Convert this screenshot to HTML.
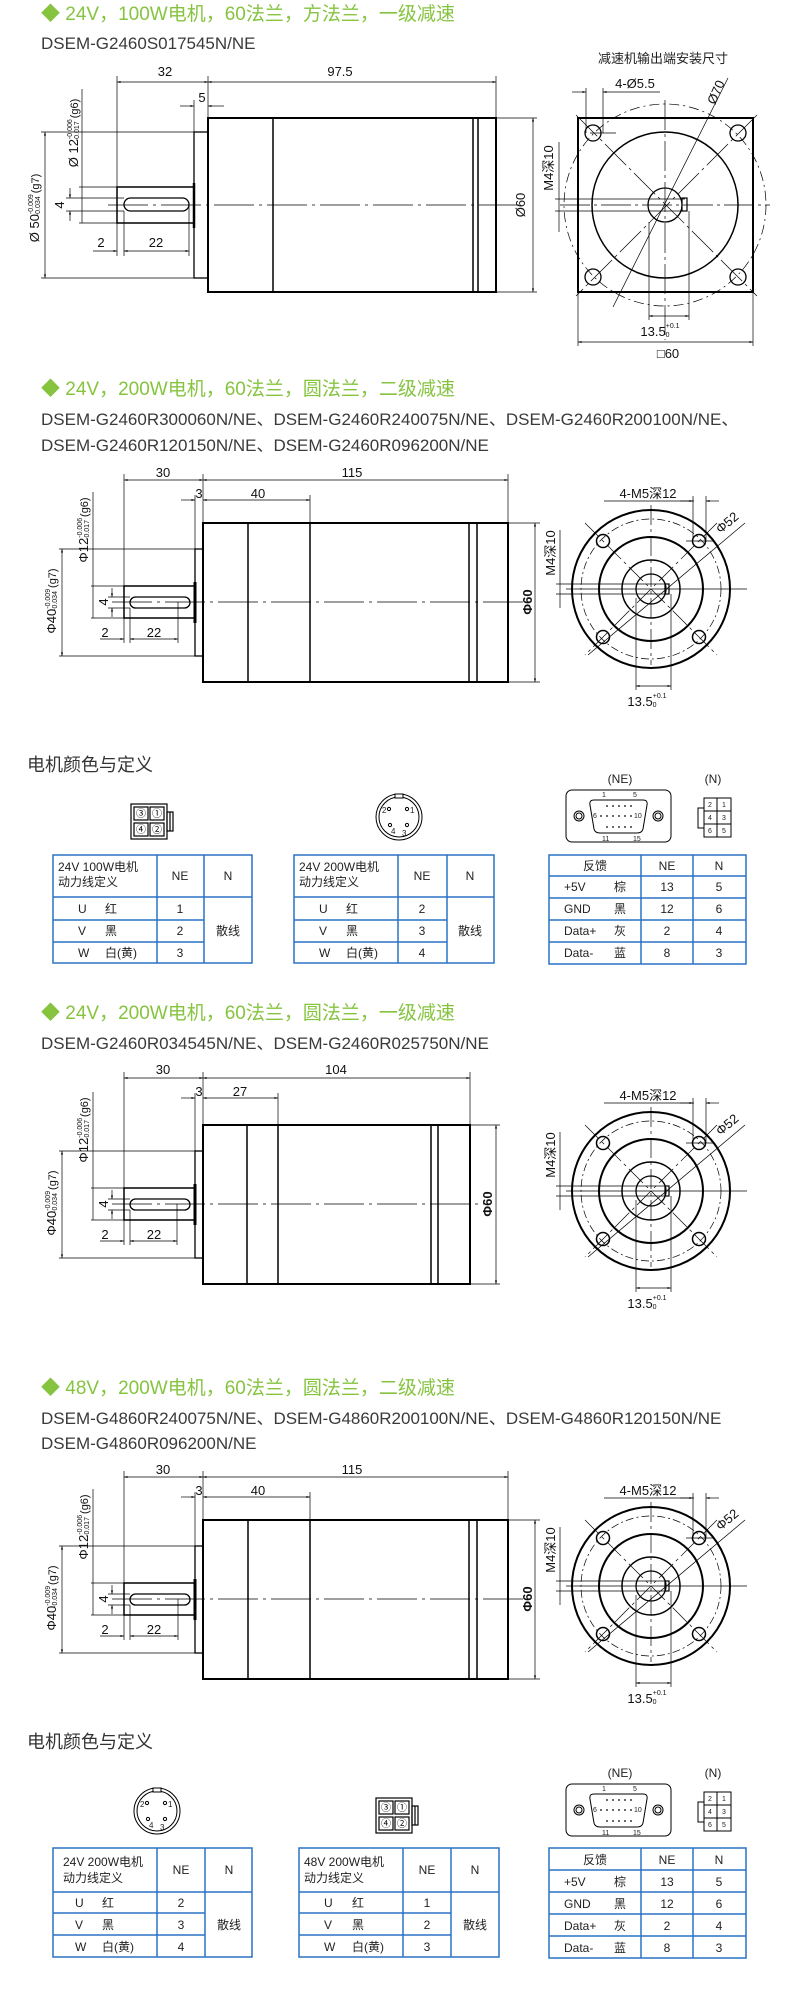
<!DOCTYPE html>
<html><head><meta charset="utf-8"><style>
html,body{margin:0;padding:0;background:#fff;}
svg{display:block;}
.t{font-family:"Liberation Sans","Noto Sans CJK SC",sans-serif;}
.ttl{font-family:"Liberation Sans","Noto Sans CJK SC",sans-serif;font-size:19px;fill:#86c440;}
.dsem{font-family:"Liberation Sans","Noto Sans CJK SC",sans-serif;font-size:17px;fill:#3a3a3a;}
.d{font-family:"Liberation Sans","Noto Sans CJK SC",sans-serif;font-size:13px;fill:#111;}
.s{font-family:"Liberation Sans",sans-serif;font-size:7px;fill:#111;}
.tb{font-family:"Liberation Sans","Noto Sans CJK SC",sans-serif;font-size:12px;fill:#222;}
.hd{font-family:"Liberation Sans","Noto Sans CJK SC",sans-serif;font-size:18px;fill:#333;}
</style></head><body>
<svg width="790" height="1995" viewBox="0 0 790 1995" xmlns="http://www.w3.org/2000/svg">
<defs>
<marker id="a" viewBox="0 0 10 10" refX="10" refY="5" markerWidth="7" markerHeight="5" orient="auto-start-reverse"><path d="M0,2 L10,5 L0,8 z" fill="#000"/></marker>
</defs>

<!-- ================= SECTION 1 ================= -->
<text class="ttl" x="41" y="20">◆ 24V，100W电机，60法兰，方法兰，一级减速</text>
<text class="dsem" x="41" y="49">DSEM-G2460S017545N/NE</text>
<g stroke="#000" fill="none">
<rect x="208" y="118" width="288" height="174" stroke-width="2"/>
<line x1="273" y1="118" x2="273" y2="292" stroke-width="1.5"/>
<line x1="473" y1="118" x2="473" y2="292" stroke-width="1.5"/>
<line x1="478" y1="118" x2="478" y2="292" stroke-width="1.5"/>
<rect x="194" y="132" width="14" height="146" stroke-width="1.3"/>
<line x1="194" y1="183" x2="194" y2="228" stroke-width="2.5"/>
<rect x="117" y="187" width="77" height="36" stroke-width="1.5"/>
<rect x="124" y="198" width="65" height="13" rx="6.5" stroke-width="1.3"/>
<line x1="108" y1="205" x2="520" y2="205" stroke-width="0.7" stroke-dasharray="40 5 3 5"/>
<g stroke-width="0.7">
<line x1="117" y1="187" x2="117" y2="76"/><line x1="208" y1="118" x2="208" y2="76"/><line x1="496" y1="118" x2="496" y2="76"/>
<line x1="117" y1="82" x2="208" y2="82" marker-start="url(#a)" marker-end="url(#a)"/>
<line x1="208" y1="82" x2="496" y2="82" marker-start="url(#a)" marker-end="url(#a)"/>
<line x1="194" y1="132" x2="194" y2="100"/>
<line x1="180" y1="106" x2="194" y2="106" marker-end="url(#a)"/>
<line x1="224" y1="106" x2="208" y2="106" marker-end="url(#a)"/>
<line x1="496" y1="118" x2="537" y2="118"/><line x1="496" y1="292" x2="537" y2="292"/>
<line x1="533" y1="118" x2="533" y2="292" marker-start="url(#a)" marker-end="url(#a)"/>
<line x1="41" y1="132" x2="194" y2="132"/><line x1="41" y1="278" x2="194" y2="278"/>
<line x1="45" y1="132" x2="45" y2="278" marker-start="url(#a)" marker-end="url(#a)"/>
<line x1="82" y1="89" x2="82" y2="223"/>
<line x1="79" y1="187" x2="117" y2="187"/><line x1="79" y1="223" x2="117" y2="223"/>
<line x1="66" y1="198" x2="124" y2="198"/><line x1="66" y1="211" x2="124" y2="211"/>
<line x1="70" y1="188" x2="70" y2="198" marker-end="url(#a)"/><line x1="70" y1="221" x2="70" y2="211" marker-end="url(#a)"/>
<line x1="117" y1="223" x2="117" y2="256"/><line x1="124" y1="211" x2="124" y2="256"/><line x1="189" y1="205" x2="189" y2="256"/>
<line x1="93" y1="251" x2="117" y2="251" marker-end="url(#a)"/>
<line x1="124" y1="251" x2="189" y2="251" marker-start="url(#a)" marker-end="url(#a)"/>
</g>
</g>
<text class="d" x="165" y="76" text-anchor="middle">32</text>
<text class="d" x="340" y="76" text-anchor="middle">97.5</text>
<text class="d" x="202" y="102" text-anchor="middle">5</text>
<text class="d" x="101" y="247" text-anchor="middle">2</text>
<text class="d" x="156" y="247" text-anchor="middle">22</text>
<text class="d" transform="translate(525,205) rotate(-90)" text-anchor="middle">Ø60</text>
<text class="d" transform="translate(64,205) rotate(-90)" text-anchor="middle">4</text>
<text class="d" transform="translate(39,208) rotate(-90)" text-anchor="middle">Ø 50<tspan class="s" dy="-6">-0.009</tspan><tspan class="s" dx="-22" dy="7">-0.034</tspan><tspan dy="-1" font-size="11"> (g7)</tspan></text>
<text class="d" transform="translate(78,133) rotate(-90)" text-anchor="middle">Ø 12<tspan class="s" dy="-6">-0.006</tspan><tspan class="s" dx="-22" dy="7">-0.017</tspan><tspan dy="-1" font-size="11"> (g6)</tspan></text>

<!-- right view 1 -->
<text class="t" x="663" y="63" text-anchor="middle" font-size="13" fill="#222">减速机输出端安装尺寸</text>
<g stroke="#000" fill="none">
<rect x="578" y="118" width="175" height="174" stroke-width="2"/>
<circle cx="665" cy="205" r="73" stroke-width="1.5"/>
<circle cx="665" cy="205" r="101" stroke-width="0.7" stroke-dasharray="10 4 2 4"/>
<circle cx="665" cy="205" r="17" stroke-width="1.3"/>
<rect x="682" y="198" width="5" height="13" stroke-width="1.2"/>
<circle cx="593" cy="133" r="8" stroke-width="1.3"/><circle cx="738" cy="133" r="8" stroke-width="1.3"/>
<circle cx="593" cy="277" r="8" stroke-width="1.3"/><circle cx="738" cy="277" r="8" stroke-width="1.3"/>
<g stroke-width="0.7">
<line x1="576" y1="115" x2="757" y2="296" stroke-dasharray="30 4 3 4"/>
<line x1="757" y1="115" x2="576" y2="296" stroke-dasharray="30 4 3 4"/>
<line x1="665" y1="100" x2="665" y2="340" stroke-dasharray="30 4 3 4"/>
<line x1="560" y1="205" x2="770" y2="205" stroke-dasharray="30 4 3 4"/>
<line x1="613" y1="307" x2="728" y2="78"/>
<line x1="586" y1="88" x2="586" y2="133"/><line x1="603" y1="88" x2="603" y2="133"/>
<line x1="572" y1="92" x2="586" y2="92" marker-end="url(#a)"/>
<line x1="660" y1="92" x2="603" y2="92" marker-end="url(#a)"/>
<line x1="590" y1="133" x2="616" y2="133"/>
<line x1="559" y1="142" x2="559" y2="232"/>
<line x1="555" y1="199" x2="685" y2="199"/><line x1="555" y1="211" x2="685" y2="211"/>
<line x1="649" y1="222" x2="649" y2="320"/><line x1="689" y1="211" x2="689" y2="320"/>
<line x1="649" y1="316" x2="689" y2="316" marker-start="url(#a)" marker-end="url(#a)"/>
<line x1="578" y1="292" x2="578" y2="346"/><line x1="753" y1="292" x2="753" y2="346"/>
<line x1="578" y1="342" x2="753" y2="342" marker-start="url(#a)" marker-end="url(#a)"/>
</g>
</g>
<text class="d" x="635" y="88" text-anchor="middle">4-Ø5.5</text>
<text class="d" transform="translate(720,94) rotate(-66)" text-anchor="middle">Ø70</text>
<text class="d" transform="translate(553,168) rotate(-90)" text-anchor="middle">M4深10</text>
<text class="d" x="660" y="336" text-anchor="middle">13.5<tspan class="s" dy="-8">+0.1</tspan><tspan class="s" dx="-14" dy="9">0</tspan></text>
<text class="d" x="668" y="358" text-anchor="middle">□60</text>

<!-- ================= SECTION 2 (template) ================= -->
<g id="sec2">
<g stroke="#000" fill="none">
<rect x="203" y="523" width="305" height="159" stroke-width="2"/>
<line x1="248" y1="523" x2="248" y2="682" stroke-width="1.5"/>
<line x1="310" y1="523" x2="310" y2="682" stroke-width="1.5"/>
<line x1="469" y1="523" x2="469" y2="682" stroke-width="1.5"/>
<line x1="477" y1="523" x2="477" y2="682" stroke-width="1.5"/>
<rect x="195" y="549" width="8" height="107" stroke-width="1.3"/>
<line x1="195" y1="582" x2="195" y2="623" stroke-width="3"/>
<rect x="124" y="586" width="71" height="32" stroke-width="1.5"/>
<rect x="130" y="597" width="60" height="11" rx="5.5" stroke-width="1.3"/>
<line x1="112" y1="602" x2="525" y2="602" stroke-width="0.7" stroke-dasharray="40 5 3 5"/>
<g stroke-width="0.7">
<line x1="124" y1="586" x2="124" y2="474"/><line x1="203" y1="523" x2="203" y2="474"/><line x1="508" y1="523" x2="508" y2="474"/>
<line x1="124" y1="480" x2="203" y2="480" marker-start="url(#a)" marker-end="url(#a)"/>
<line x1="203" y1="480" x2="508" y2="480" marker-start="url(#a)" marker-end="url(#a)"/>
<line x1="195" y1="549" x2="195" y2="495"/><line x1="310" y1="523" x2="310" y2="495"/>
<line x1="181" y1="500" x2="195" y2="500" marker-end="url(#a)"/>
<line x1="203" y1="500" x2="310" y2="500" marker-start="url(#a)" marker-end="url(#a)"/>
<line x1="508" y1="523" x2="540" y2="523"/><line x1="508" y1="682" x2="540" y2="682"/>
<line x1="535" y1="523" x2="535" y2="682" marker-start="url(#a)" marker-end="url(#a)"/>
<line x1="59" y1="549" x2="195" y2="549"/><line x1="59" y1="656" x2="195" y2="656"/>
<line x1="62" y1="549" x2="62" y2="656" marker-start="url(#a)" marker-end="url(#a)"/>
<line x1="93" y1="492" x2="93" y2="618"/>
<line x1="91" y1="586" x2="124" y2="586"/><line x1="91" y1="618" x2="124" y2="618"/>
<line x1="108" y1="597" x2="130" y2="597"/><line x1="108" y1="608" x2="130" y2="608"/>
<line x1="112" y1="588" x2="112" y2="597" marker-end="url(#a)"/><line x1="112" y1="617" x2="112" y2="608" marker-end="url(#a)"/>
<line x1="124" y1="618" x2="124" y2="643"/><line x1="130" y1="608" x2="130" y2="643"/><line x1="178" y1="602" x2="178" y2="643"/>
<line x1="100" y1="639" x2="124" y2="639" marker-end="url(#a)"/>
<line x1="130" y1="639" x2="178" y2="639" marker-start="url(#a)" marker-end="url(#a)"/>
</g>
</g>
<text class="d" x="163" y="477" text-anchor="middle">30</text>
<text class="d" x="352" y="477" text-anchor="middle">115</text>
<text class="d" x="199" y="498" text-anchor="middle">3</text>
<text class="d" x="258" y="498" text-anchor="middle">40</text>
<text class="d" x="105" y="637" text-anchor="middle">2</text>
<text class="d" x="154" y="637" text-anchor="middle">22</text>
<text class="d" font-weight="bold" transform="translate(532,602) rotate(-90)" text-anchor="middle">Φ60</text>
<text class="d" transform="translate(108,602) rotate(-90)" text-anchor="middle">4</text>
<text class="d" transform="translate(56,601) rotate(-90)" text-anchor="middle">Φ40<tspan class="s" dy="-6">-0.009</tspan><tspan class="s" dx="-22" dy="7">-0.034</tspan><tspan dy="-1" font-size="11"> (g7)</tspan></text>
<text class="d" transform="translate(88,530) rotate(-90)" text-anchor="middle">Φ12<tspan class="s" dy="-6">-0.006</tspan><tspan class="s" dx="-22" dy="7">-0.017</tspan><tspan dy="-1" font-size="11"> (g6)</tspan></text>
</g>

<g id="rv2">
<g stroke="#000" fill="none">
<circle cx="651" cy="589" r="79" stroke-width="2"/>
<circle cx="651" cy="589" r="70" stroke-width="0.7" stroke-dasharray="8 3 2 3"/>
<circle cx="651" cy="589" r="52" stroke-width="2"/>
<circle cx="651" cy="589" r="29" stroke-width="1.5"/>
<circle cx="651" cy="589" r="15" stroke-width="1.3"/>
<rect x="665" y="584" width="4" height="10" stroke-width="1.2"/>
<circle cx="603" cy="541" r="6.5" stroke-width="1.5"/><circle cx="699" cy="541" r="6.5" stroke-width="1.5"/>
<circle cx="603" cy="637" r="6.5" stroke-width="1.5"/><circle cx="699" cy="637" r="6.5" stroke-width="1.5"/>
<g stroke-width="0.7">
<line x1="585" y1="523" x2="717" y2="655" stroke-dasharray="20 4 3 4"/>
<line x1="717" y1="523" x2="585" y2="655" stroke-dasharray="20 4 3 4"/>
<line x1="651" y1="505" x2="651" y2="665" stroke-dasharray="20 4 3 4"/>
<line x1="566" y1="589" x2="747" y2="589"/>
<line x1="588" y1="655" x2="745" y2="523"/>
<line x1="604" y1="501" x2="694" y2="501"/>
<line x1="693" y1="496" x2="693" y2="541"/><line x1="706" y1="496" x2="706" y2="541"/>
<line x1="680" y1="501" x2="693" y2="501" marker-end="url(#a)"/>
<line x1="719" y1="501" x2="706" y2="501" marker-end="url(#a)"/>
<line x1="686" y1="541" x2="713" y2="541"/>
<line x1="560" y1="530" x2="560" y2="608"/>
<line x1="556" y1="584" x2="665" y2="584"/><line x1="556" y1="594" x2="665" y2="594"/>
<line x1="636" y1="598" x2="636" y2="690"/><line x1="671" y1="594" x2="671" y2="690"/>
<line x1="636" y1="686" x2="671" y2="686" marker-start="url(#a)" marker-end="url(#a)"/>
</g>
</g>
<text class="d" x="648" y="498" text-anchor="middle">4-M5深12</text>
<text class="d" transform="translate(730,526) rotate(-40)" text-anchor="middle">Φ52</text>
<text class="d" transform="translate(555,553) rotate(-90)" text-anchor="middle">M4深10</text>
<text class="d" x="647" y="706" text-anchor="middle">13.5<tspan class="s" dy="-8">+0.1</tspan><tspan class="s" dx="-14" dy="9">0</tspan></text>
</g>

<text class="ttl" x="41" y="395">◆ 24V，200W电机，60法兰，圆法兰，二级减速</text>
<text class="dsem" x="41" y="425">DSEM-G2460R300060N/NE、DSEM-G2460R240075N/NE、DSEM-G2460R200100N/NE、</text>
<text class="dsem" x="41" y="451">DSEM-G2460R120150N/NE、DSEM-G2460R096200N/NE</text>

<!-- ================= TABLES A ================= -->
<text class="hd" x="27" y="771">电机颜色与定义</text>
<g id="con4" stroke="#000" fill="none" stroke-width="1.2">
<rect x="131" y="804" width="36" height="35"/>
<rect x="167" y="812" width="6" height="19"/>
<line x1="170" y1="812" x2="170" y2="831"/>
<rect x="134" y="807" width="14" height="13"/><rect x="150" y="807" width="14" height="13"/>
<rect x="134" y="823" width="14" height="13"/><rect x="150" y="823" width="14" height="13"/>
</g>
<g class="t" font-size="10" text-anchor="middle">
<text x="141" y="817">③</text><text x="157" y="817">①</text><text x="141" y="833">④</text><text x="157" y="833">②</text>
</g>
<g stroke="#000" fill="none" stroke-width="1">
<circle cx="399" cy="817" r="23"/><circle cx="399" cy="817" r="20"/>
<rect x="395" y="794" width="8" height="4" fill="#fff"/>
<circle cx="389" cy="809" r="1.6"/><circle cx="407" cy="809" r="1.6"/>
<circle cx="390" cy="825" r="1.6"/><circle cx="407" cy="825" r="1.6"/>
</g>
<g class="t" font-size="8" fill="#222"><text x="382" y="813">2</text><text x="410" y="813">1</text><text x="391" y="834">4</text><text x="402" y="836">3</text></g>

<g id="db">
<g stroke="#000" fill="none" stroke-width="1">
<rect x="566" y="790" width="105" height="52" rx="6"/>
<path d="M594,800 L643,800 Q648,800 647,805 L643,829 Q642,833 637,833 L600,833 Q595,833 594,829 L590,805 Q589,800 594,800 Z"/>
<circle cx="579" cy="816" r="5"/><circle cx="579" cy="816" r="3"/>
<circle cx="658" cy="816" r="5"/><circle cx="658" cy="816" r="3"/>
</g>
<g fill="#000">
<circle cx="607" cy="806" r="0.9"/><circle cx="613" cy="806" r="0.9"/><circle cx="619" cy="806" r="0.9"/><circle cx="625" cy="806" r="0.9"/><circle cx="631" cy="806" r="0.9"/>
<circle cx="601" cy="816" r="0.9"/><circle cx="607" cy="816" r="0.9"/><circle cx="613" cy="816" r="0.9"/><circle cx="619" cy="816" r="0.9"/><circle cx="625" cy="816" r="0.9"/><circle cx="631" cy="816" r="0.9"/>
<circle cx="607" cy="827" r="0.9"/><circle cx="613" cy="827" r="0.9"/><circle cx="619" cy="827" r="0.9"/><circle cx="625" cy="827" r="0.9"/><circle cx="631" cy="827" r="0.9"/>
</g>
<g class="t" font-size="7" fill="#222"><text x="602" y="797">1</text><text x="633" y="797">5</text><text x="593" y="818">6</text><text x="634" y="818">10</text><text x="602" y="841">11</text><text x="633" y="841">15</text></g>
<text class="t" font-size="12" x="620" y="783" text-anchor="middle" fill="#222">(NE)</text>
<text class="t" font-size="12" x="713" y="783" text-anchor="middle" fill="#222">(N)</text>
<g stroke="#000" fill="none" stroke-width="1">
<rect x="704" y="798" width="27" height="39"/>
<line x1="717" y1="798" x2="717" y2="837"/><line x1="704" y1="811" x2="731" y2="811"/><line x1="704" y1="824" x2="731" y2="824"/>
<rect x="698" y="808" width="6" height="20"/>
</g>
<g class="t" font-size="7" fill="#222" text-anchor="middle"><text x="710" y="807">2</text><text x="724" y="807">1</text><text x="710" y="820">4</text><text x="724" y="820">3</text><text x="710" y="833">6</text><text x="724" y="833">5</text></g>
</g>

<!-- table A1 -->
<g stroke="#2a72c4" stroke-width="1.5" fill="none">
<rect x="53" y="855" width="199" height="108"/>
<line x1="157" y1="855" x2="157" y2="963"/><line x1="204" y1="855" x2="204" y2="963"/>
<line x1="53" y1="897" x2="252" y2="897"/><line x1="53" y1="920" x2="204" y2="920"/><line x1="53" y1="942" x2="204" y2="942"/>
<rect x="294" y="855" width="200" height="108"/>
<line x1="398" y1="855" x2="398" y2="963"/><line x1="447" y1="855" x2="447" y2="963"/>
<line x1="294" y1="897" x2="494" y2="897"/><line x1="294" y1="920" x2="447" y2="920"/><line x1="294" y1="942" x2="447" y2="942"/>
<rect x="549" y="855" width="197" height="109"/>
<line x1="641" y1="855" x2="641" y2="964"/><line x1="693" y1="855" x2="693" y2="964"/>
<line x1="549" y1="876" x2="746" y2="876"/><line x1="549" y1="898" x2="746" y2="898"/><line x1="549" y1="920" x2="746" y2="920"/><line x1="549" y1="942" x2="746" y2="942"/>
</g>
<g class="tb">
<text x="58" y="871">24V 100W电机</text><text x="58" y="886">动力线定义</text>
<text x="180" y="880" text-anchor="middle">NE</text><text x="228" y="880" text-anchor="middle">N</text>
<text x="78" y="913">U</text><text x="105" y="913">红</text><text x="180" y="913" text-anchor="middle">1</text>
<text x="78" y="935">V</text><text x="105" y="935">黑</text><text x="180" y="935" text-anchor="middle">2</text>
<text x="78" y="957">W</text><text x="105" y="957">白(黄)</text><text x="180" y="957" text-anchor="middle">3</text>
<text x="228" y="935" text-anchor="middle">散线</text>
<text x="299" y="871">24V 200W电机</text><text x="299" y="886">动力线定义</text>
<text x="422" y="880" text-anchor="middle">NE</text><text x="470" y="880" text-anchor="middle">N</text>
<text x="319" y="913">U</text><text x="346" y="913">红</text><text x="422" y="913" text-anchor="middle">2</text>
<text x="319" y="935">V</text><text x="346" y="935">黑</text><text x="422" y="935" text-anchor="middle">3</text>
<text x="319" y="957">W</text><text x="346" y="957">白(黄)</text><text x="422" y="957" text-anchor="middle">4</text>
<text x="470" y="935" text-anchor="middle">散线</text>
<text x="595" y="870" text-anchor="middle">反馈</text><text x="667" y="870" text-anchor="middle">NE</text><text x="719" y="870" text-anchor="middle">N</text>
<text x="564" y="891">+5V</text><text x="614" y="891">棕</text><text x="667" y="891" text-anchor="middle">13</text><text x="719" y="891" text-anchor="middle">5</text>
<text x="564" y="913">GND</text><text x="614" y="913">黑</text><text x="667" y="913" text-anchor="middle">12</text><text x="719" y="913" text-anchor="middle">6</text>
<text x="564" y="935">Data+</text><text x="614" y="935">灰</text><text x="667" y="935" text-anchor="middle">2</text><text x="719" y="935" text-anchor="middle">4</text>
<text x="564" y="957">Data-</text><text x="614" y="957">蓝</text><text x="667" y="957" text-anchor="middle">8</text><text x="719" y="957" text-anchor="middle">3</text>
</g>

<!-- ================= SECTION 3 ================= -->
<text class="ttl" x="41" y="1019">◆ 24V，200W电机，60法兰，圆法兰，一级减速</text>
<text class="dsem" x="41" y="1049">DSEM-G2460R034545N/NE、DSEM-G2460R025750N/NE</text>
<g transform="translate(0,602)">
<g stroke="#000" fill="none">
<rect x="203" y="523" width="267" height="159" stroke-width="2"/>
<line x1="247" y1="523" x2="247" y2="682" stroke-width="1.5"/>
<line x1="278" y1="523" x2="278" y2="682" stroke-width="1.5"/>
<line x1="431" y1="523" x2="431" y2="682" stroke-width="1.5"/>
<line x1="438" y1="523" x2="438" y2="682" stroke-width="1.5"/>
<rect x="195" y="549" width="8" height="107" stroke-width="1.3"/>
<line x1="195" y1="582" x2="195" y2="623" stroke-width="3"/>
<rect x="124" y="586" width="71" height="32" stroke-width="1.5"/>
<rect x="130" y="597" width="60" height="11" rx="5.5" stroke-width="1.3"/>
<line x1="112" y1="602" x2="490" y2="602" stroke-width="0.7" stroke-dasharray="40 5 3 5"/>
<g stroke-width="0.7">
<line x1="124" y1="586" x2="124" y2="470"/><line x1="203" y1="523" x2="203" y2="470"/><line x1="470" y1="523" x2="470" y2="470"/>
<line x1="124" y1="476" x2="203" y2="476" marker-start="url(#a)" marker-end="url(#a)"/>
<line x1="203" y1="476" x2="470" y2="476" marker-start="url(#a)" marker-end="url(#a)"/>
<line x1="195" y1="549" x2="195" y2="491"/><line x1="278" y1="523" x2="278" y2="491"/>
<line x1="181" y1="496" x2="195" y2="496" marker-end="url(#a)"/>
<line x1="203" y1="496" x2="278" y2="496" marker-start="url(#a)" marker-end="url(#a)"/>
<line x1="470" y1="523" x2="500" y2="523"/><line x1="470" y1="682" x2="500" y2="682"/>
<line x1="496" y1="523" x2="496" y2="682" marker-start="url(#a)" marker-end="url(#a)"/>
<line x1="59" y1="549" x2="195" y2="549"/><line x1="59" y1="656" x2="195" y2="656"/>
<line x1="62" y1="549" x2="62" y2="656" marker-start="url(#a)" marker-end="url(#a)"/>
<line x1="93" y1="490" x2="93" y2="618"/>
<line x1="91" y1="586" x2="124" y2="586"/><line x1="91" y1="618" x2="124" y2="618"/>
<line x1="108" y1="597" x2="130" y2="597"/><line x1="108" y1="608" x2="130" y2="608"/>
<line x1="112" y1="588" x2="112" y2="597" marker-end="url(#a)"/><line x1="112" y1="617" x2="112" y2="608" marker-end="url(#a)"/>
<line x1="124" y1="618" x2="124" y2="643"/><line x1="130" y1="608" x2="130" y2="643"/><line x1="177" y1="602" x2="177" y2="643"/>
<line x1="100" y1="639" x2="124" y2="639" marker-end="url(#a)"/>
<line x1="130" y1="639" x2="177" y2="639" marker-start="url(#a)" marker-end="url(#a)"/>
</g>
</g>
<text class="d" x="163" y="472" text-anchor="middle">30</text>
<text class="d" x="336" y="472" text-anchor="middle">104</text>
<text class="d" x="199" y="494" text-anchor="middle">3</text>
<text class="d" x="240" y="494" text-anchor="middle">27</text>
<text class="d" x="105" y="637" text-anchor="middle">2</text>
<text class="d" x="154" y="637" text-anchor="middle">22</text>
<text class="d" font-weight="bold" transform="translate(492,602) rotate(-90)" text-anchor="middle">Φ60</text>
<text class="d" transform="translate(108,602) rotate(-90)" text-anchor="middle">4</text>
<text class="d" transform="translate(56,601) rotate(-90)" text-anchor="middle">Φ40<tspan class="s" dy="-6">-0.009</tspan><tspan class="s" dx="-22" dy="7">-0.034</tspan><tspan dy="-1" font-size="11"> (g7)</tspan></text>
<text class="d" transform="translate(88,528) rotate(-90)" text-anchor="middle">Φ12<tspan class="s" dy="-6">-0.006</tspan><tspan class="s" dx="-22" dy="7">-0.017</tspan><tspan dy="-1" font-size="11"> (g6)</tspan></text>
<use href="#rv2"/>
</g>

<!-- ================= SECTION 4 ================= -->
<text class="ttl" x="41" y="1394">◆ 48V，200W电机，60法兰，圆法兰，二级减速</text>
<text class="dsem" x="41" y="1424">DSEM-G4860R240075N/NE、DSEM-G4860R200100N/NE、DSEM-G4860R120150N/NE</text>
<text class="dsem" x="41" y="1449">DSEM-G4860R096200N/NE</text>
<use href="#sec2" transform="translate(0,997)"/>
<use href="#rv2" transform="translate(0,997)"/>

<!-- ================= TABLES B ================= -->
<text class="hd" x="27" y="1748">电机颜色与定义</text>
<g stroke="#000" fill="none" stroke-width="1">
<circle cx="157" cy="1811" r="23"/><circle cx="157" cy="1811" r="20"/>
<rect x="153" y="1788" width="8" height="4" fill="#fff"/>
<circle cx="147" cy="1803" r="1.6"/><circle cx="165" cy="1803" r="1.6"/>
<circle cx="148" cy="1819" r="1.6"/><circle cx="165" cy="1819" r="1.6"/>
</g>
<g class="t" font-size="8" fill="#222"><text x="140" y="1807">2</text><text x="168" y="1807">1</text><text x="149" y="1828">4</text><text x="160" y="1830">3</text></g>
<g transform="translate(245,994)"><use href="#con4"/>
<g class="t" font-size="10" text-anchor="middle">
<text x="141" y="817">③</text><text x="157" y="817">①</text><text x="141" y="833">④</text><text x="157" y="833">②</text>
</g></g>
<use href="#db" transform="translate(0,994)"/>

<g stroke="#2a72c4" stroke-width="1.5" fill="none">
<rect x="53" y="1848" width="199" height="109"/>
<line x1="157" y1="1848" x2="157" y2="1957"/><line x1="205" y1="1848" x2="205" y2="1957"/>
<line x1="53" y1="1892" x2="252" y2="1892"/><line x1="53" y1="1913" x2="205" y2="1913"/><line x1="53" y1="1935" x2="205" y2="1935"/>
<rect x="299" y="1848" width="200" height="109"/>
<line x1="403" y1="1848" x2="403" y2="1957"/><line x1="451" y1="1848" x2="451" y2="1957"/>
<line x1="299" y1="1892" x2="499" y2="1892"/><line x1="299" y1="1913" x2="451" y2="1913"/><line x1="299" y1="1935" x2="451" y2="1935"/>
<rect x="549" y="1848" width="197" height="110"/>
<line x1="641" y1="1848" x2="641" y2="1958"/><line x1="693" y1="1848" x2="693" y2="1958"/>
<line x1="549" y1="1870" x2="746" y2="1870"/><line x1="549" y1="1892" x2="746" y2="1892"/><line x1="549" y1="1914" x2="746" y2="1914"/><line x1="549" y1="1936" x2="746" y2="1936"/>
</g>
<g class="tb">
<text x="63" y="1866">24V 200W电机</text><text x="63" y="1882">动力线定义</text>
<text x="181" y="1874" text-anchor="middle">NE</text><text x="229" y="1874" text-anchor="middle">N</text>
<text x="75" y="1907">U</text><text x="102" y="1907">红</text><text x="181" y="1907" text-anchor="middle">2</text>
<text x="75" y="1929">V</text><text x="102" y="1929">黑</text><text x="181" y="1929" text-anchor="middle">3</text>
<text x="75" y="1951">W</text><text x="102" y="1951">白(黄)</text><text x="181" y="1951" text-anchor="middle">4</text>
<text x="229" y="1929" text-anchor="middle">散线</text>
<text x="304" y="1866">48V 200W电机</text><text x="304" y="1882">动力线定义</text>
<text x="427" y="1874" text-anchor="middle">NE</text><text x="475" y="1874" text-anchor="middle">N</text>
<text x="324" y="1907">U</text><text x="352" y="1907">红</text><text x="427" y="1907" text-anchor="middle">1</text>
<text x="324" y="1929">V</text><text x="352" y="1929">黑</text><text x="427" y="1929" text-anchor="middle">2</text>
<text x="324" y="1951">W</text><text x="352" y="1951">白(黄)</text><text x="427" y="1951" text-anchor="middle">3</text>
<text x="475" y="1929" text-anchor="middle">散线</text>
<text x="595" y="1864" text-anchor="middle">反馈</text><text x="667" y="1864" text-anchor="middle">NE</text><text x="719" y="1864" text-anchor="middle">N</text>
<text x="564" y="1886">+5V</text><text x="614" y="1886">棕</text><text x="667" y="1886" text-anchor="middle">13</text><text x="719" y="1886" text-anchor="middle">5</text>
<text x="564" y="1908">GND</text><text x="614" y="1908">黑</text><text x="667" y="1908" text-anchor="middle">12</text><text x="719" y="1908" text-anchor="middle">6</text>
<text x="564" y="1930">Data+</text><text x="614" y="1930">灰</text><text x="667" y="1930" text-anchor="middle">2</text><text x="719" y="1930" text-anchor="middle">4</text>
<text x="564" y="1952">Data-</text><text x="614" y="1952">蓝</text><text x="667" y="1952" text-anchor="middle">8</text><text x="719" y="1952" text-anchor="middle">3</text>
</g>
</svg>
</body></html>
